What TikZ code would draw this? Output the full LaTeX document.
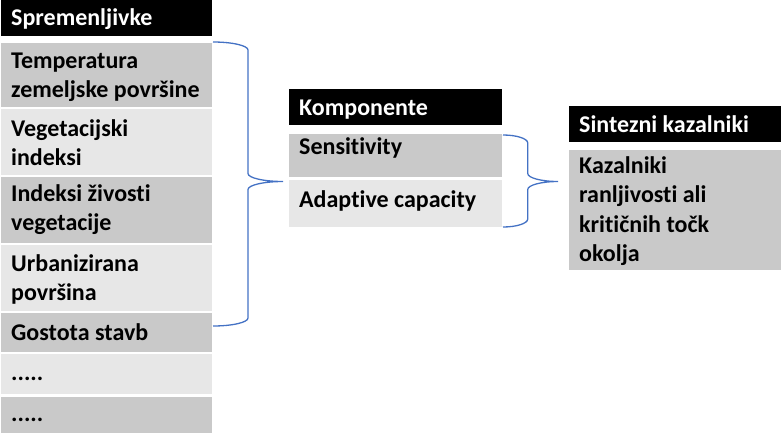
\documentclass[tikz,border=0pt]{standalone}
\usepackage{fontspec}
\setmainfont{Carlito}[Ligatures={NoCommon,NoContextual}]
\usetikzlibrary{calc}
\definecolor{dk}{HTML}{C9C9C9}
\definecolor{lt}{HTML}{E7E7E7}
\definecolor{br}{HTML}{4472C4}
\newcommand\boxtxt[1]{\parbox[t]{200pt}{\raggedright #1}}
\begin{document}
\begin{tikzpicture}[x=1pt,y=-1pt,
  box/.style={rectangle, inner sep=0pt, outer sep=0pt, anchor=north west},
  lw/.style={minimum width=211pt},
  mw/.style={minimum width=213pt},
  rw/.style={minimum width=212pt},
  hd/.style={box, fill=black},
  dkbox/.style={box, fill=dk},
  ltbox/.style={box, fill=lt},
  lbl/.style={inner sep=0pt, anchor=base west,
              font=\bfseries\fontsize{24}{29.5}\selectfont},
  wlbl/.style={lbl, text=white},
  brace/.style={draw=br, line width=1.3pt}]
\useasboundingbox (0,0) rectangle (781,434);

% left column
\node[hd, lw, minimum height=36pt] (h1) at (1,0) {};
\node[wlbl] (h1t) at (11,25) {\boxtxt{Spremenljivke}};
\node[dkbox, lw, minimum height=64pt] (b1) at (1,43) {};
\node[lbl] (b1t) at (11,68) {\boxtxt{Temperatura\\zemeljske površine}};
\node[ltbox, lw, minimum height=66pt] (b2) at (1,109) {};
\node[lbl] (b2t) at (11,136) {\boxtxt{Vegetacijski\\indeksi}};
\node[dkbox, lw, minimum height=66pt] (b3) at (1,177) {};
\node[lbl] (b3t) at (11,201) {\boxtxt{Indeksi živosti\\vegetacije}};
\node[ltbox, lw, minimum height=66pt] (b4) at (1,245) {};
\node[lbl] (b4t) at (11,271) {\boxtxt{Urbanizirana\\površina}};
\node[dkbox, lw, minimum height=39pt] (b5) at (1,313) {};
\node[lbl] (b5t) at (11,340) {\boxtxt{Gostota stavb}};
\node[ltbox, lw, minimum height=40pt] (b6) at (1,354) {};
\node[lbl] (b6t) at (11,380) {\boxtxt{.....}};
\node[dkbox, lw, minimum height=36pt] (b7) at (1,397) {};
\node[lbl] (b7t) at (11,421) {\boxtxt{.....}};

% middle column
\node[hd, mw, minimum height=36pt] (h2) at (289,89) {};
\node[wlbl] (h2t) at (299,115) {\boxtxt{Komponente}};
\node[dkbox, mw, minimum height=43pt] (s1) at (289,134) {};
\node[lbl] (s1t) at (299,154) {\boxtxt{Sensitivity}};
\node[ltbox, mw, minimum height=47pt] (s2) at (289,180) {};
\node[lbl] (s2t) at (299,207) {\boxtxt{Adaptive capacity}};

% right column
\node[hd, rw, minimum height=36pt] (h3) at (569,106) {};
\node[wlbl] (h3t) at (579,132) {\boxtxt{Sintezni kazalniki}};
\node[dkbox, rw, minimum height=120pt] (k1) at (569,150) {};
\node[lbl] (k1t) at (579,173) {\boxtxt{Kazalniki\\ranljivosti ali\\kritičnih točk\\okolja}};

% brace 1: b1..b5 -> components
\coordinate (e1a) at ($(b1.north east)+(1,-1)$);
\coordinate (e1b) at ($(b5.north east)+(1,13)$);
\coordinate (t1) at ($(s1.south west)!0.5!(s2.north west)+(-6,3)$);
\coordinate (v1) at ($(e1a)!0.5!(t1)$);
\coordinate (c1a) at (e1a -| v1);
\coordinate (c1t) at (v1 |- t1);
\coordinate (c1b) at (e1b -| v1);
\coordinate (p1a) at ($(c1a)+(0,8)$);
\coordinate (q1a) at ($(c1t)+(0,-8)$);
\coordinate (q1b) at ($(c1t)+(0,8)$);
\coordinate (p1b) at ($(c1b)+(0,-8)$);
\draw[brace] (e1a) .. controls ($(e1a)!0.55!(c1a)$) and ($(p1a)!0.55!(c1a)$) .. (p1a)
  -- (q1a) .. controls ($(q1a)!0.55!(c1t)$) and ($(t1)!0.55!(c1t)$) .. (t1)
  .. controls ($(t1)!0.55!(c1t)$) and ($(q1b)!0.55!(c1t)$) .. (q1b)
  -- (p1b) .. controls ($(p1b)!0.55!(c1b)$) and ($(e1b)!0.55!(c1b)$) .. (e1b);

% brace 2: components -> synthesis
\coordinate (e2a) at ($(s1.north east)+(1,1)$);
\coordinate (e2b) at ($(s2.south east)+(1,0)$);
\coordinate (m2) at ($(s1.south east)!0.5!(s2.north east)$);
\coordinate (t2) at ($(m2 -| k1.west)+(-11,3)$);
\coordinate (v2) at ($(e2a)!0.45!(t2)$);
\coordinate (c2a) at (e2a -| v2);
\coordinate (c2t) at (v2 |- t2);
\coordinate (c2b) at (e2b -| v2);
\coordinate (p2a) at ($(c2a)+(0,8)$);
\coordinate (q2a) at ($(c2t)+(0,-8)$);
\coordinate (q2b) at ($(c2t)+(0,8)$);
\coordinate (p2b) at ($(c2b)+(0,-8)$);
\draw[brace] (e2a) .. controls ($(e2a)!0.55!(c2a)$) and ($(p2a)!0.55!(c2a)$) .. (p2a)
  -- (q2a) .. controls ($(q2a)!0.55!(c2t)$) and ($(t2)!0.55!(c2t)$) .. (t2)
  .. controls ($(t2)!0.55!(c2t)$) and ($(q2b)!0.55!(c2t)$) .. (q2b)
  -- (p2b) .. controls ($(p2b)!0.55!(c2b)$) and ($(e2b)!0.55!(c2b)$) .. (e2b);
\end{tikzpicture}
\end{document}
